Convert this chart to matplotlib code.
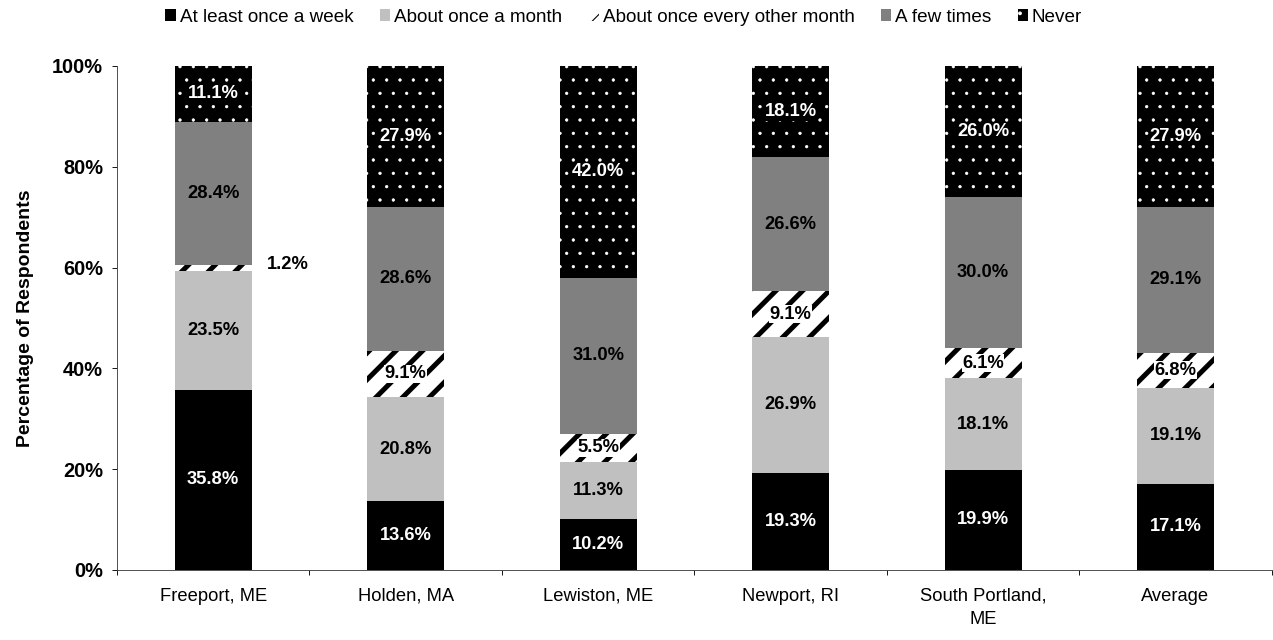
import numpy as np
import matplotlib
matplotlib.use("Agg")
import matplotlib.pyplot as plt
from matplotlib.patches import Patch

plt.rcParams['font.family'] = ['Liberation Sans', 'DejaVu Sans']

# data (percent of respondents)
towns = ['Freeport, ME', 'Holden, MA', 'Lewiston, ME', 'Newport, RI',
         'South Portland,\nME', 'Average']
series = ['At least once a week', 'About once a month',
          'About once every other month', 'A few times', 'Never']
weekly = [35.8, 13.6, 10.2, 19.3, 19.9, 17.1]
monthly = [23.5, 20.8, 11.3, 26.9, 18.1, 19.1]
other_month = [1.2, 9.1, 5.5, 9.1, 6.1, 6.8]
few_times = [28.4, 28.6, 31.0, 26.6, 30.0, 29.1]
never = [11.1, 27.9, 42.0, 18.1, 26.0, 27.9]

values = [weekly, monthly, other_month, few_times, never]

# figure drawn at dpi 80 so hatch spacing matches (8 px dots, 13 px stripes)
DPI = 80

# styles per series: face, hatch colour, hatch, label colour, label box
styles = [
    dict(fc='black', ec='black', hatch=None, txt='white', hlw=1, box=None),
    dict(fc='#c0c0c0', ec='#c0c0c0', hatch=None, txt='black', hlw=1, box=None),
    dict(fc='white', ec='black', hatch='/', txt='black', hlw=4.5, box='white'),
    dict(fc='#808080', ec='#808080', hatch=None, txt='black', hlw=1, box=None),
    dict(fc='black', ec='white', hatch='.', txt='white', hlw=0.5, box='black'),
]

fig = plt.figure(figsize=(1273 / DPI, 640 / DPI), dpi=DPI)
ax = fig.add_axes([0.0919, 0.1094, 0.9071, 0.7875])

x = np.arange(len(towns))
width = 0.4
bottom = np.zeros(len(towns))

for vals, st in zip(values, styles):
    vals = np.array(vals)
    with plt.rc_context({'hatch.linewidth': st['hlw']}):
        ax.bar(x, vals, width, bottom=bottom, color=st['fc'],
               edgecolor=st['ec'], hatch=st['hatch'], linewidth=0)
    for i, v in enumerate(vals):
        y = bottom[i] + v / 2
        label = f'{v:.1f}%'
        if v < 3:
            ax.text(x[i] + 0.28, y + 0.8, label, ha='left', va='center',
                    fontsize=16.5, fontweight='bold', color='black')
            continue
        kw = {}
        if st['box']:
            kw['bbox'] = dict(boxstyle='square,pad=0.03', fc=st['box'], ec='none')
        ax.text(x[i], y, label, ha='center', va='center', fontsize=16.5,
                fontweight='bold', color=st['txt'], **kw)
    bottom += vals

ax.set_xlim(-0.5, len(towns) - 0.5)
ax.set_ylim(0, 100)
ax.set_yticks(np.arange(0, 101, 20))
ax.set_yticklabels([f'{t}%' for t in range(0, 101, 20)],
                   fontsize=18, fontweight='bold')
ax.set_ylabel('Percentage of Respondents', fontsize=17.5, fontweight='bold')
ax.yaxis.set_label_coords(-0.072, 0.5)

ax.set_xticks(np.arange(-0.5, len(towns)), labels=[''] * (len(towns) + 1))
ax.set_xticks(x, labels=towns, minor=True)
for lbl in ax.get_xminorticklabels():
    lbl.set_linespacing(1.5)
ax.tick_params(axis='x', which='minor', length=0, labelsize=16.5, pad=16)
ax.tick_params(axis='x', which='major', length=4.5, direction='out')
ax.tick_params(axis='y', length=4.5, direction='out', pad=8)

for s in ['top', 'right']:
    ax.spines[s].set_visible(False)
for s in ['left', 'bottom']:
    ax.spines[s].set_color('#404040')

handles = []
for name, st in zip(series, styles):
    handles.append(Patch(facecolor=st['fc'], edgecolor=st['ec'],
                         hatch=st['hatch'], linewidth=0, label=name))
fig.legend(handles=handles, loc='upper center', bbox_to_anchor=(0.49, 1.013),
           ncol=5, frameon=False, fontsize=17, handlelength=0.55,
           handleheight=0.55, handletextpad=0.2, columnspacing=1.4)

fig.savefig('out.png', dpi=DPI)
